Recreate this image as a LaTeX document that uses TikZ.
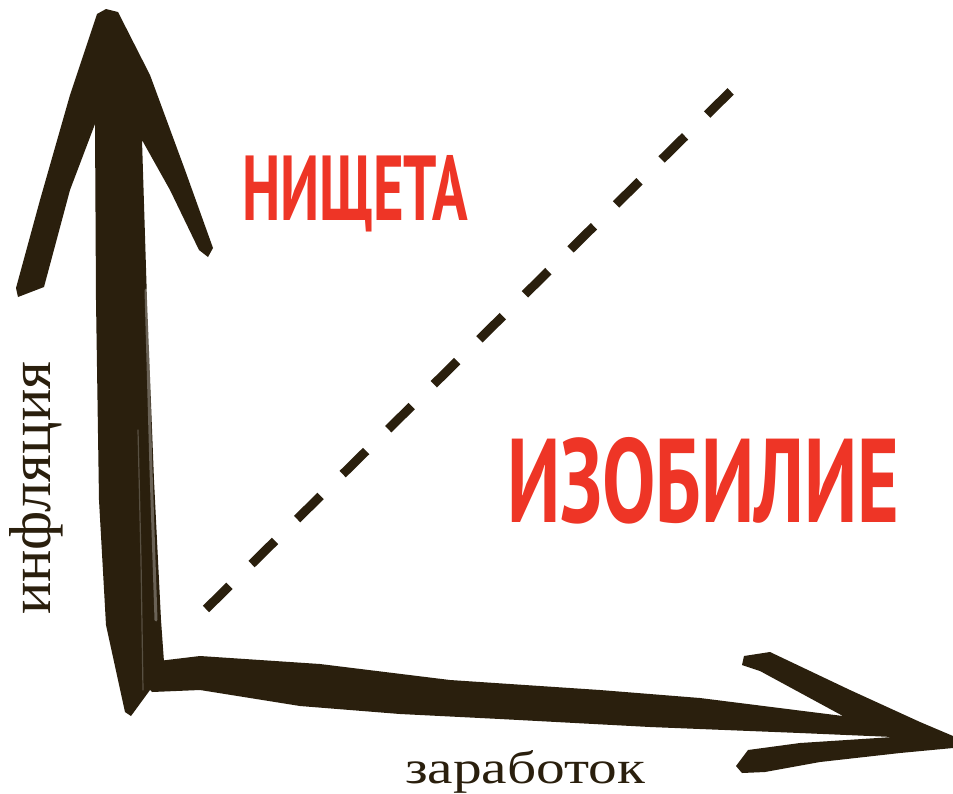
\documentclass[tikz,border=0pt]{standalone}
\usepackage{fontspec}
\usepackage{graphicx}
\setmainfont{Liberation Serif}
\newfontfamily\headfont{PT Sans}
\definecolor{ink}{HTML}{2A1F0D}
\definecolor{redtxt}{HTML}{EE3526}
\begin{document}
\begin{tikzpicture}[x=1pt,y=-1pt,
  brush/.style={fill=ink,draw=none},
  streak/.style={draw=white,opacity=0.3,line cap=round},
  bigword/.style={text=redtxt,inner sep=0pt,font=\headfont\bfseries},
  axislabel/.style={text=ink,inner sep=0pt}]
\useasboundingbox[fill=white] (0,0) rectangle (953,793);
% vertical brush arrow
\fill[brush] (97,14) -- (106,9) -- (118,12) -- (150,75) -- (185,170) -- (213,248) -- (208,257) -- (199,250)
  -- (170,190) -- (142,140) -- (147,300) -- (154,480) -- (161,620) -- (164,662) -- (150,690) -- (131,716)
  -- (125,712) -- (118,680) -- (106,625) -- (99,500) -- (96,300) -- (95,124)
  -- (70,190) -- (44,287) -- (18,297) -- (16,288) -- (40,200) -- (70,95) -- cycle;
% horizontal brush arrow
\fill[brush] (150,662) -- (200,656) -- (320,664) -- (450,680) -- (600,690) -- (700,698) -- (843,716)
  -- (760,671) -- (742,665) -- (744,656) -- (770,652) -- (850,690) -- (920,722) -- (953,736)
  -- (953,748) -- (900,753) -- (820,762) -- (765,772) -- (742,773) -- (736,766) -- (748,750)
  -- (800,743) -- (893,737) -- (800,733) -- (650,727) -- (500,719) -- (400,714) -- (300,706)
  -- (200,690) -- (152,692) -- (140,678) -- cycle;
% texture streaks
\draw[streak,line width=3pt] (146,290) -- (151,470) -- (156,620);
\draw[streak,line width=1.2pt,opacity=0.22] (138,430) -- (141,560) -- (143,690);
% dashed diagonal
\coordinate (d1) at (206,609);
\coordinate (d2) at (731,91);
\draw[ink,line width=9pt,dash pattern=on 33pt off 31pt] (d1) -- (d2);
% words
\node[bigword,anchor=base west] (poverty) at (242,220) {\resizebox{226pt}{65pt}{НИЩЕТА}};
\node[bigword,anchor=base west] (plenty) at (507,522) {\resizebox{392pt}{85pt}{ИЗОБИЛИЕ}};
\node[axislabel,anchor=base west] (earn) at (405,783) {\resizebox{240pt}{33pt}{заработок}};
\node[axislabel,rotate=90,anchor=base west] (infl) at (50,615) {\resizebox{253pt}{41pt}{инфляция}};
\end{tikzpicture}
\end{document}
